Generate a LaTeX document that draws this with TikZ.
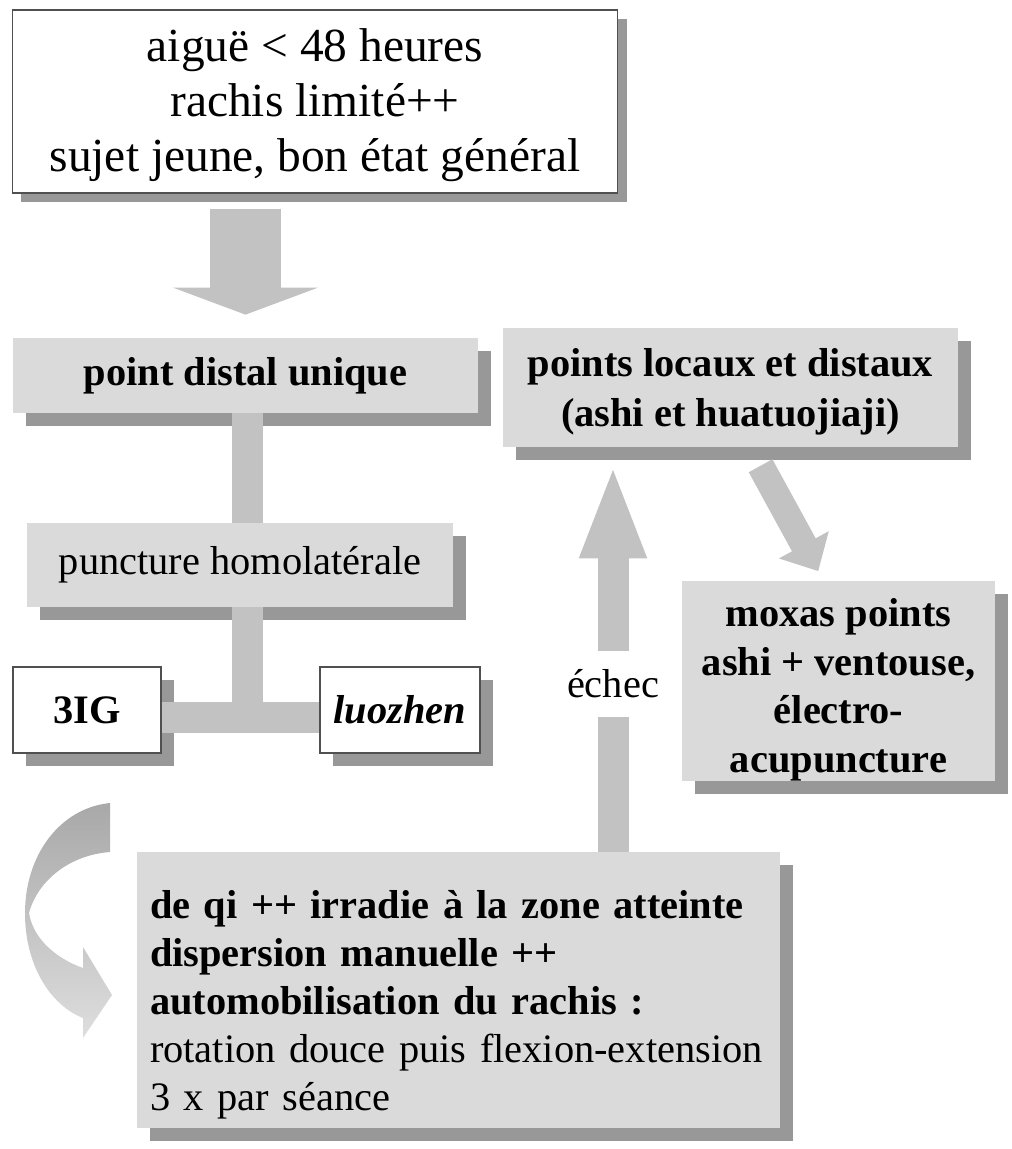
\documentclass[tikz,border=0pt]{standalone}
\usepackage{fontspec}
\setmainfont{Liberation Serif}
\usetikzlibrary{arrows.meta, shadows, positioning}
\definecolor{qbox}{RGB}{218,218,218}
\definecolor{qshade}{RGB}{152,152,152}
\definecolor{qbar}{RGB}{194,194,194}
\definecolor{qline}{RGB}{80,80,80}
\tikzset{
  boxshadow/.style={drop shadow={shadow xshift=#1, shadow yshift=-#1, fill=qshade, opacity=1}},
  boxshadow/.default=0.26cm,
  greybox/.style={fill=qbox, inner sep=0pt, align=center, font=\fontsize{23}{27.5}\selectfont\bfseries},
  whitebox/.style={greybox, fill=white, draw=qline, line width=0.6pt},
  bar/.style={draw=qbar, line width=0.62cm},
}
% strut that pushes the first line down
\newcommand{\toplift}[1]{\rule{0pt}{#1}}

\begin{document}
\begin{tikzpicture}[x=0.02cm, y=-0.02cm]
\useasboundingbox (0,0) rectangle (1011,1149);

%boxes
\node[whitebox, boxshadow=0.18cm, minimum width=12.12cm, minimum height=3.66cm, font=\fontsize{27}{31.3}\selectfont] (cas) at (315,101.5) {\toplift{23pt}aiguë < 48 heures\\rachis limité++\\sujet jeune, bon état général};
\node[greybox, boxshadow, minimum width=9.3cm, minimum height=1.5cm] (distal) at (245.5,375.5) {point distal unique};
\node[greybox, boxshadow, minimum width=8.52cm, minimum height=1.68cm, font=\fontsize{23}{27.5}\selectfont] (punct) at (240,565) {puncture homolatérale};
\node[whitebox, boxshadow, minimum width=2.96cm, minimum height=1.72cm] (ig) at (87,710) {3IG};
\node[whitebox, boxshadow, minimum width=3.2cm, minimum height=1.72cm] (luo) at (400,710) {\itshape luozhen};
\node[greybox, boxshadow, minimum width=9.1cm, minimum height=2.38cm, font=\fontsize{23}{28.5}\selectfont\bfseries] (locaux) at (730.5,387.5) {\toplift{21pt}points locaux et distaux\\(ashi et huatuojiaji)};
\node[greybox, boxshadow, minimum width=6.26cm, minimum height=3.84cm, font=\fontsize{23}{27.6}\selectfont\bfseries] (moxas) at (838.5,681) {\toplift{26pt}moxas points\\ashi + ventouse,\\électro-\\acupuncture};
\node[greybox, boxshadow, minimum width=12.86cm, minimum height=5.52cm, text width=12.34cm, inner xsep=0.26cm, align=left, font=\fontsize{23}{27.3}\selectfont] (effet) at (458.5,990) {\toplift{33pt}\textbf{de qi ++ irradie à la zone atteinte}\\\textbf{dispersion manuelle ++}\\\textbf{automobilisation du rachis :}\\rotation douce puis flexion-extension\\3 x par séance};
\node[inner sep=0pt, minimum height=1.3cm, font=\fontsize{23}{27.5}\selectfont] (echec) at (613,684) {échec};

%connectors
\coordinate (tee) at (247.5,717);
\draw[bar] (distal.south -| tee) -- (punct.north -| tee);
\draw[bar] (punct.south -| tee) -- (tee);
\draw[bar] (ig.east |- tee) -- (luo.west |- tee);

%arrows
\draw[qbar, line width=1.44cm, -{Triangle[width=2.88cm, length=0.54cm]}, shorten <=0.3cm, shorten >=0.46cm] (cas.south -| distal.north) -- (distal.north);
\draw[qbar, line width=0.54cm, -{Triangle[width=1.1cm, length=0.6cm]}, shorten <=0.42cm, shorten >=0.22cm] ([xshift=0.4cm]locaux.south) -- ([xshift=-0.3cm]moxas.north);
\draw[bar] (effet.north -| echec) -- (echec.south);
\draw[qbar, line width=0.62cm, -{Triangle[width=1.2cm, length=1.9cm]}, shorten >=0.32cm] (echec.north) -- (locaux.south -| echec);

%curved arrow
\shade[top color=black!34, bottom color=black!13] (110,803) .. controls (60,808) and (25,855) .. (25,913)
  .. controls (25,965) and (50,1005) .. (83,1018) -- (83,1038) -- (112,995) -- (83,947) -- (83,968)
  .. controls (55,958) and (33,938) .. (29,913)
  .. controls (38,880) and (70,855) .. (110,852) -- cycle;

\end{tikzpicture}
\end{document}
